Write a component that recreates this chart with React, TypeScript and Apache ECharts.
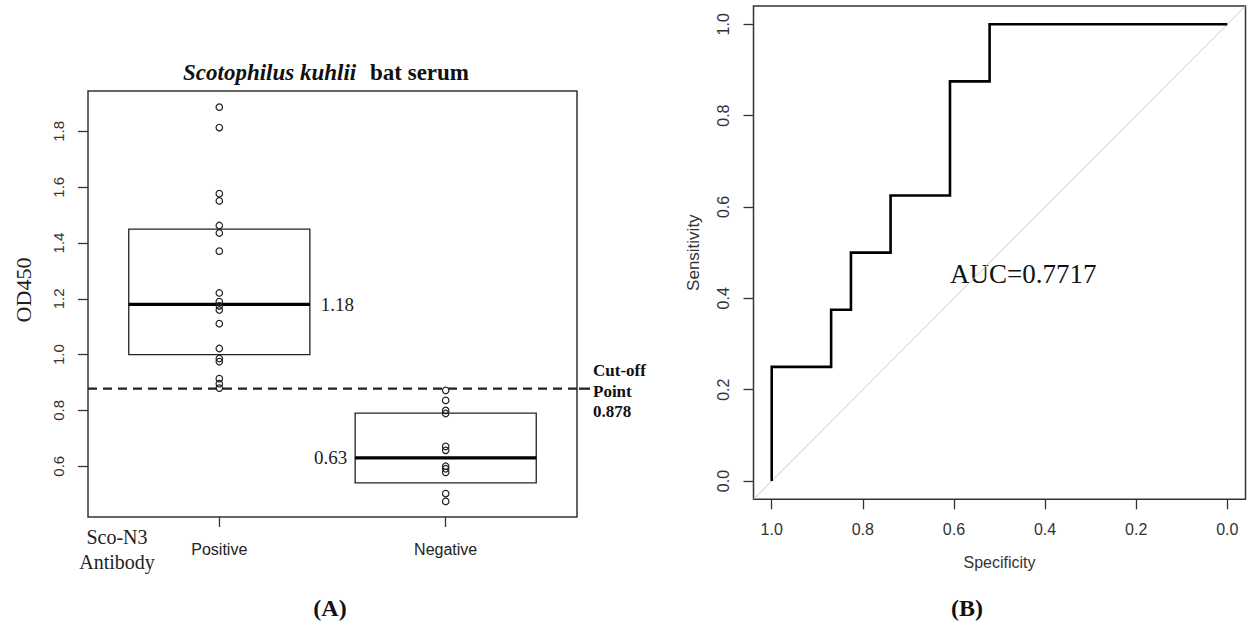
import React, { useEffect, useRef } from "react";
import * as echarts from "echarts";

// ---- Panel A data ----
const groupNames = ["Positive", "Negative"];
const groupPositions = [1, 2];
const positiveOD = [1.887, 1.814, 1.577, 1.551, 1.463, 1.436, 1.371, 1.221, 1.19, 1.175, 1.16, 1.111, 1.022, 0.986, 0.975, 0.914, 0.896, 0.88];
const negativeOD = [0.872, 0.836, 0.8, 0.789, 0.671, 0.657, 0.6, 0.591, 0.578, 0.502, 0.474];
const boxLower = [1.0, 0.54];
const boxUpper = [1.45, 0.79];
const boxMedian = [1.18, 0.63];
const cutOff = 0.878;
const odTicks = [0.6, 0.8, 1.0, 1.2, 1.4, 1.6, 1.8];

// ---- Panel B data ----
const rocSpecificity = [1, 1, 0.8696, 0.8261, 0.7391, 0.6087, 0.5217, 0];
const rocSensitivity = [0, 0.25, 0.375, 0.5, 0.625, 0.875, 1, 1];
const rocTicks = [0, 0.2, 0.4, 0.6, 0.8, 1.0];
const aucValue = 0.7717;

const SERIF = "'Liberation Serif', 'Times New Roman', serif";
const SANS = "'Liberation Sans', Arial, sans-serif";

export default function App() {
  const ref = useRef<HTMLDivElement>(null);

  useEffect(() => {
    if (!ref.current) return;
    const chart = echarts.init(ref.current, undefined, { renderer: "svg" });

    const xMinA = 0.42, xMaxA = 2.58;
    const yMinA = 0.418, yMaxA = 1.945;
    const rMin = -0.04, rMax = 1.04;

    const boxData = groupPositions.map((p, i) => [p, boxLower[i], boxUpper[i], boxMedian[i]]);

    const rocPts: number[][] = [[rocSpecificity[0], rocSensitivity[0]]];
    for (let i = 1; i < rocSpecificity.length; i++) {
      rocPts.push([rocSpecificity[i], rocSensitivity[i - 1]]);
      rocPts.push([rocSpecificity[i], rocSensitivity[i]]);
    }

    const tickStyle = { color: "#333", width: 1.3 };

    const option: any = {
      animation: false,
      backgroundColor: "#ffffff",
      grid: [
        { left: 88, top: 91, width: 489, height: 426, show: true, borderColor: "#333", borderWidth: 1.5, backgroundColor: "transparent" },
        { left: 753.5, top: 6, width: 492, height: 493.3, show: true, borderColor: "#333", borderWidth: 1.5, backgroundColor: "transparent" },
      ],
      xAxis: [
        {
          type: "value", gridIndex: 0, min: xMinA, max: xMaxA, position: "bottom",
          axisLine: { show: false, onZero: false }, splitLine: { show: false },
          axisTick: { show: true, length: 10, customValues: groupPositions, lineStyle: tickStyle },
          axisLabel: {
            customValues: groupPositions, margin: 24, color: "#222", fontFamily: SANS, fontSize: 16,
            formatter: (v: number) => groupNames[groupPositions.indexOf(Math.round(v))] || "",
          },
        },
        {
          type: "value", gridIndex: 1, min: rMin, max: rMax, inverse: true, position: "bottom",
          axisLine: { show: false, onZero: false }, splitLine: { show: false },
          axisTick: { show: true, length: 10, customValues: rocTicks, lineStyle: tickStyle },
          axisLabel: { customValues: rocTicks, margin: 22, color: "#333", fontFamily: SANS, fontSize: 16, formatter: (v: number) => v.toFixed(1) },
          name: "Specificity", nameLocation: "middle", nameGap: 55,
          nameTextStyle: { fontFamily: SANS, fontSize: 16, color: "#333" },
        },
      ],
      yAxis: [
        {
          type: "value", gridIndex: 0, min: yMinA, max: yMaxA, position: "left",
          axisLine: { show: false, onZero: false }, splitLine: { show: false },
          axisTick: { show: true, length: 10, customValues: odTicks, lineStyle: tickStyle },
          axisLabel: { customValues: odTicks, rotate: 90, margin: 22, color: "#333", fontFamily: SANS, fontSize: 15, formatter: (v: number) => v.toFixed(1) },
        },
        {
          type: "value", gridIndex: 1, min: rMin, max: rMax, position: "left",
          axisLine: { show: false, onZero: false }, splitLine: { show: false },
          axisTick: { show: true, length: 10, customValues: rocTicks, lineStyle: tickStyle },
          axisLabel: { customValues: rocTicks, rotate: 90, margin: 22, color: "#333", fontFamily: SANS, fontSize: 16, formatter: (v: number) => v.toFixed(1) },
          name: "Sensitivity", nameLocation: "middle", nameGap: 52, nameRotate: 90,
          nameTextStyle: { fontFamily: SANS, fontSize: 17, color: "#333" },
        },
      ],
      series: [
        {
          type: "custom", xAxisIndex: 0, yAxisIndex: 0, data: boxData, z: 2,
          renderItem: (params: any, api: any) => {
            const x = api.value(0), lo = api.value(1), hi = api.value(2), med = api.value(3);
            const tl = api.coord([x - 0.4, hi]);
            const br = api.coord([x + 0.4, lo]);
            const ml = api.coord([x - 0.4, med]);
            const mr = api.coord([x + 0.4, med]);
            const right = params.dataIndex === 0;
            return {
              type: "group",
              children: [
                { type: "rect", shape: { x: tl[0], y: tl[1], width: br[0] - tl[0], height: br[1] - tl[1] }, style: { fill: "none", stroke: "#222", lineWidth: 1.3 } },
                { type: "line", shape: { x1: ml[0], y1: ml[1], x2: mr[0], y2: mr[1] }, style: { stroke: "#000", lineWidth: 3.2 } },
                {
                  type: "text",
                  x: right ? mr[0] + 11 : ml[0] - 8, y: ml[1],
                  style: { text: med.toFixed(2), fontFamily: SERIF, fontSize: 19, fill: "#222", align: right ? "left" : "right", verticalAlign: "middle" },
                },
              ],
            };
          },
        },
        {
          type: "line", xAxisIndex: 0, yAxisIndex: 0, symbol: "none", z: 3,
          data: [[xMinA, cutOff], [xMaxA, cutOff]],
          lineStyle: { color: "#222", width: 2.3, type: [9, 6] },
        },
        {
          type: "scatter", xAxisIndex: 0, yAxisIndex: 0, symbol: "circle", symbolSize: 6.5, z: 4,
          data: positiveOD.map((v) => [groupPositions[0], v]).concat(negativeOD.map((v) => [groupPositions[1], v])),
          itemStyle: { color: "rgba(0,0,0,0)", borderColor: "#222", borderWidth: 1.2, opacity: 1 },
        },
        {
          type: "line", xAxisIndex: 1, yAxisIndex: 1, symbol: "none", z: 2,
          data: [[rMax, rMin], [rMin, rMax]],
          lineStyle: { color: "#c8c8c8", width: 1 },
        },
        {
          type: "line", xAxisIndex: 1, yAxisIndex: 1, symbol: "none", z: 3,
          data: rocPts,
          lineStyle: { color: "#000", width: 2.6, join: "miter" },
        },
      ],
      graphic: [
        { id: "t1", type: "text", x: 183, y: 72, style: { text: "Scotophilus kuhlii", fontFamily: SERIF, fontSize: 23, fontStyle: "italic", fontWeight: "bold", fill: "#111", align: "left", verticalAlign: "middle" } },
        { id: "t2", type: "text", x: 370, y: 72, style: { text: "bat serum", fontFamily: SERIF, fontSize: 23, fontWeight: "bold", fill: "#111", align: "left", verticalAlign: "middle" } },
        { id: "t3", type: "text", x: 23, y: 290, rotation: Math.PI / 2, style: { text: "OD450", fontFamily: SERIF, fontSize: 22, fill: "#222", align: "center", verticalAlign: "middle" } },
        { id: "t4", type: "text", x: 117, y: 537, style: { text: "Sco-N3", fontFamily: SERIF, fontSize: 20, fill: "#222", align: "center", verticalAlign: "middle" } },
        { id: "t5", type: "text", x: 117, y: 562, style: { text: "Antibody", fontFamily: SERIF, fontSize: 20, fill: "#222", align: "center", verticalAlign: "middle" } },
        { id: "t6", type: "text", x: 593, y: 370, style: { text: "Cut-off", fontFamily: SERIF, fontSize: 17, fontWeight: "bold", fill: "#111", align: "left", verticalAlign: "middle" } },
        { id: "t7", type: "text", x: 593, y: 391.5, style: { text: "Point", fontFamily: SERIF, fontSize: 17, fontWeight: "bold", fill: "#111", align: "left", verticalAlign: "middle" } },
        { id: "t8", type: "text", x: 593, y: 411.5, style: { text: cutOff.toFixed(3), fontFamily: SERIF, fontSize: 17, fontWeight: "bold", fill: "#111", align: "left", verticalAlign: "middle" } },
        { id: "t9", type: "text", x: 330, y: 608, style: { text: "(A)", fontFamily: SERIF, fontSize: 24, fontWeight: "bold", fill: "#111", align: "center", verticalAlign: "middle" } },
        { id: "t10", type: "text", x: 967, y: 608, style: { text: "(B)", fontFamily: SERIF, fontSize: 24, fontWeight: "bold", fill: "#111", align: "center", verticalAlign: "middle" } },
        { id: "t11", type: "text", x: 950, y: 274, style: { text: "AUC=" + aucValue.toFixed(4), fontFamily: SERIF, fontSize: 27, fill: "#111", align: "left", verticalAlign: "middle" } },
      ],
    };

    chart.setOption(option);

    // short extension of the cut-off line from the plot frame to the "Point" label
    const p = chart.convertToPixel({ gridIndex: 0 }, [xMaxA, cutOff]) as number[];
    if (p && isFinite(p[0]) && isFinite(p[1])) {
      chart.setOption({
        graphic: [
          { id: "cutExt", type: "line", shape: { x1: p[0] + 2, y1: p[1], x2: p[0] + 13, y2: p[1] }, style: { stroke: "#222", lineWidth: 2.3 } },
        ],
      });
    }

    return () => chart.dispose();
  }, []);

  return (
    <div
      ref={ref}
      style={{ position: "fixed", left: 0, top: 0, width: 1248, height: 626, background: "#fff" }}
    />
  );
}
